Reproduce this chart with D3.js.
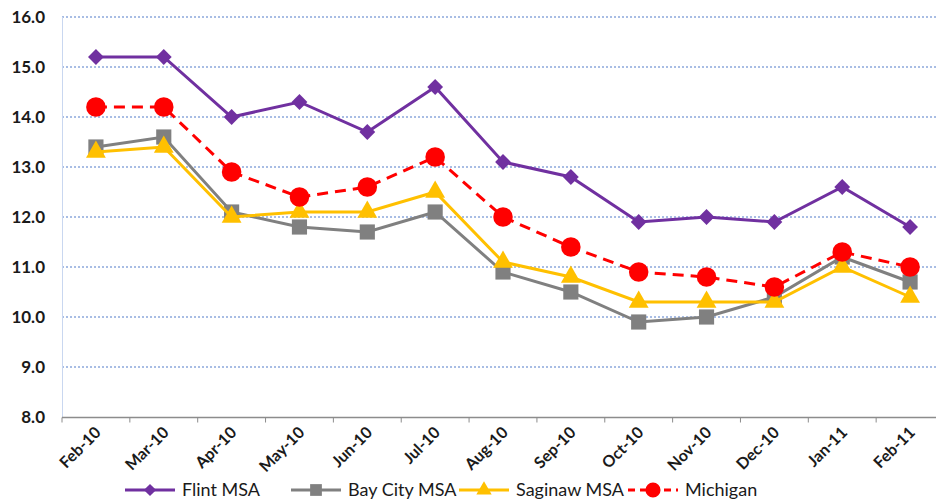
<!DOCTYPE html>
<html>
<head>
<meta charset="utf-8">
<script src="https://cdn.jsdelivr.net/npm/d3@7"></script>
<style>
  body { margin: 0; background: #fff; }
  svg { display: block; font-family: Lato, "Open Sans", sans-serif; }
</style>
</head>
<body>
<div id="chart"></div>
<script>
const months = ["Feb-10", "Mar-10", "Apr-10", "May-10", "Jun-10", "Jul-10", "Aug-10",
  "Sep-10", "Oct-10", "Nov-10", "Dec-10", "Jan-11", "Feb-11"];
const flint = [15.2, 15.2, 14.0, 14.3, 13.7, 14.6, 13.1, 12.8, 11.9, 12.0, 11.9, 12.6, 11.8];
const bayCity = [13.4, 13.6, 12.1, 11.8, 11.7, 12.1, 10.9, 10.5, 9.9, 10.0, 10.4, 11.2, 10.7];
const saginaw = [13.3, 13.4, 12.0, 12.1, 12.1, 12.5, 11.1, 10.8, 10.3, 10.3, 10.3, 11.0, 10.4];
const michigan = [14.2, 14.2, 12.9, 12.4, 12.6, 13.2, 12.0, 11.4, 10.9, 10.8, 10.6, 11.3, 11.0];
const yTicks = [8, 9, 10, 11, 12, 13, 14, 15, 16];

const series = [
  {name: "Flint MSA", values: flint, color: "#7030A0", symbol: d3.symbolSquare, size: 125, rot: 45, dash: null},
  {name: "Bay City MSA", values: bayCity, color: "#808080", symbol: d3.symbolSquare, size: 230, rot: 0, dash: null},
  {name: "Saginaw MSA", values: saginaw, color: "#FFC000", symbol: d3.symbolTriangle, size: 170, rot: 0, dash: null},
  {name: "Michigan", values: michigan, color: "#FF0000", symbol: d3.symbolCircle, size: 300, rot: 0, dash: "11,7"}
];

const width = 936, height = 502;
const svg = d3.select("#chart").append("svg")
  .attr("width", width)
  .attr("height", height);

const x = d3.scaleBand().domain(months).range([62, 944]);
const y = d3.scaleLinear().domain([8, 16]).range([417, 17]);

// gridlines
svg.append("g")
  .selectAll("line")
  .data(yTicks.filter(d => d > 8))
  .enter().append("line")
  .attr("x1", 62).attr("x2", width)
  .attr("y1", d => y(d)).attr("y2", d => y(d))
  .attr("stroke", "#A8BDE4")
  .attr("stroke-width", 2)
  .attr("stroke-dasharray", "2,2");

// y axis line
svg.append("line")
  .attr("x1", 62.5).attr("x2", 62.5)
  .attr("y1", 17).attr("y2", 417)
  .attr("stroke", "#C9D7F0");

svg.append("g")
  .selectAll("text")
  .data(yTicks)
  .enter().append("text")
  .attr("x", 45)
  .attr("y", d => y(d) + 6)
  .attr("text-anchor", "end")
  .attr("font-size", 17)
  .attr("font-weight", "bold")
  .attr("fill", "#1a1a1a")
  .text(d => d.toFixed(1));

// x axis
const xAxis = svg.append("g")
  .attr("transform", "translate(0,417.5)");
xAxis.append("line")
  .attr("x1", 62).attr("x2", width)
  .attr("stroke", "#8c8c8c").attr("stroke-width", 1.5);
xAxis.selectAll(".tick")
  .data(months)
  .enter().append("line")
  .attr("x1", d => x(d)).attr("x2", d => x(d))
  .attr("y1", 0).attr("y2", 5)
  .attr("stroke", "#8c8c8c");
xAxis.selectAll("text")
  .data(months)
  .enter().append("text")
  .attr("transform", d => "translate(" + (x(d) + x.bandwidth() / 2 + 6) + ",16) rotate(-45)")
  .attr("text-anchor", "end")
  .attr("font-size", 16)
  .attr("font-weight", "bold")
  .attr("fill", "#1a1a1a")
  .text(d => d);

// lines
const line = d3.line()
  .x((d, i) => x(months[i]) + x.bandwidth() / 2)
  .y(d => y(d));

series.forEach(s => {
  svg.append("path")
    .datum(s.values)
    .attr("d", line)
    .attr("fill", "none")
    .attr("stroke", s.color)
    .attr("stroke-width", 3)
    .attr("stroke-dasharray", s.dash);
  svg.append("g")
    .selectAll("path")
    .data(s.values)
    .enter().append("path")
    .attr("d", d3.symbol().type(s.symbol).size(s.size))
    .attr("transform", (d, i) => "translate(" + (x(months[i]) + x.bandwidth() / 2) + "," + y(d) + ") rotate(" + s.rot + ")")
    .attr("fill", s.color);
});

// legend
const legendX = [125, 291, 459, 628];
const legend = svg.append("g").attr("transform", "translate(0,490)");
series.forEach((s, i) => {
  const g = legend.append("g").attr("transform", "translate(" + legendX[i] + ",0)");
  g.append("line")
    .attr("x1", 0).attr("x2", 50)
    .attr("stroke", s.color).attr("stroke-width", 3)
    .attr("stroke-dasharray", s.dash ? "7,5" : null);
  g.append("path")
    .attr("d", d3.symbol().type(s.symbol).size(s.size * 0.6))
    .attr("transform", "translate(25,0) rotate(" + s.rot + ")")
    .attr("fill", s.color);
  g.append("text")
    .attr("x", 57)
    .attr("y", 6)
    .attr("font-size", 18)
    .attr("fill", "#1a1a1a")
    .text(s.name);
});
</script>
</body>
</html>
